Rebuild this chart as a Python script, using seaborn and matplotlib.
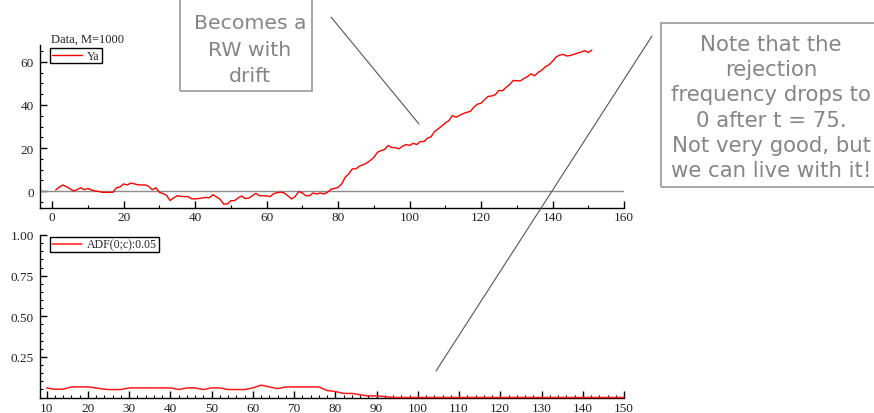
import matplotlib
matplotlib.use("Agg")
import matplotlib.pyplot as plt
import pandas as pd
import seaborn as sns
from matplotlib.patches import Rectangle
from matplotlib.lines import Line2D
from matplotlib.ticker import MultipleLocator

# Simulated series Ya (t = 1..151)
t_data = list(range(1, 152))
ya = [0.5, 1.8, 2.8, 2.0, 1.0, 0.0, 0.7, 1.5, 0.6, 1.2,
      0.5, 0.0, -0.2, -0.6, -0.6, -0.6, -0.6, 1.5, 1.9, 3.3,
      2.8, 3.7, 3.3, 2.9, 2.8, 2.8, 2.2, 0.6, 1.5, -0.6,
      -1.2, -2.0, -4.4, -3.2, -2.2, -2.5, -2.6, -2.6, -3.6, -3.7,
      -3.5, -3.2, -3.0, -3.1, -1.7, -2.8, -3.9, -6.1, -6.0, -4.5,
      -4.5, -3.2, -2.3, -3.5, -3.3, -2.2, -1.1, -2.2, -2.2, -2.3,
      -2.6, -1.2, -0.8, -0.5, -1.0, -2.3, -3.7, -2.5, -0.3, -0.9,
      -2.2, -2.2, -0.9, -1.4, -0.9, -1.4, -0.6, 0.8, 1.2, 1.7,
      3.3, 6.4, 8.0, 10.3, 10.3, 11.6, 12.2, 13.0, 14.2, 15.6,
      18.0, 18.8, 19.3, 21.2, 20.2, 20.2, 19.6, 20.8, 21.6, 21.2,
      22.2, 21.6, 23.0, 23.0, 24.6, 25.2, 27.7, 28.9, 30.2, 31.6,
      32.8, 35.1, 34.3, 35.2, 36.0, 36.6, 37.0, 39.0, 40.4, 40.8,
      42.5, 44.0, 44.2, 44.8, 46.8, 46.6, 48.2, 49.5, 51.4, 51.3,
      51.2, 52.4, 53.2, 54.5, 53.6, 55.2, 56.2, 57.8, 58.7, 60.3,
      62.3, 63.2, 63.5, 62.8, 63.0, 63.6, 64.1, 64.6, 65.3, 64.4,
      65.5]

# ADF(0;c) rejection frequency at 5% (t = 10..150)
t_adf = list(range(10, 151))
adf = [0.059, 0.054, 0.051, 0.051, 0.051, 0.058, 0.065, 0.065, 0.065, 0.065,
       0.065, 0.062, 0.058, 0.055, 0.051, 0.049, 0.049, 0.049, 0.049, 0.054,
       0.059, 0.059, 0.059, 0.059, 0.059, 0.059, 0.059, 0.059, 0.059, 0.059,
       0.059, 0.054, 0.049, 0.054, 0.059, 0.059, 0.059, 0.054, 0.049, 0.054,
       0.059, 0.059, 0.059, 0.054, 0.049, 0.049, 0.049, 0.049, 0.049, 0.054,
       0.059, 0.068, 0.076, 0.071, 0.065, 0.060, 0.055, 0.060, 0.065, 0.065,
       0.065, 0.065, 0.065, 0.065, 0.065, 0.065, 0.065, 0.054, 0.043, 0.040,
       0.037, 0.031, 0.025, 0.025, 0.025, 0.021, 0.017, 0.013, 0.010, 0.010,
       0.010, 0.008, 0.005, 0.003, 0.0, 0.0, 0.0, 0.0, 0.0, 0.0,
       0.0, 0.0, 0.0, 0.0, 0.0, 0.0, 0.0, 0.0, 0.0, 0.0,
       0.0, 0.0, 0.0, 0.0, 0.0, 0.0, 0.0, 0.0, 0.0, 0.0,
       0.0, 0.0, 0.0, 0.0, 0.0, 0.0, 0.0, 0.0, 0.0, 0.0,
       0.0, 0.0, 0.0, 0.0, 0.0, 0.0, 0.0, 0.0, 0.0, 0.0,
       0.0, 0.0, 0.0, 0.0, 0.0, 0.0, 0.0, 0.0, 0.0, 0.0,
       0.0]

adf_yticks = [0.25, 0.50, 0.75, 1.00]

sns.set_theme(style="ticks")
plt.rcParams["font.family"] = ["Liberation Serif", "DejaVu Serif"]

W, H = 874, 414
fig = plt.figure(figsize=(W / 100, H / 100), dpi=100)


def px_box(left, top, right, bottom):
    return [left / W, 1 - bottom / H, (right - left) / W, (bottom - top) / H]


ax1 = fig.add_axes(px_box(40, 46, 624, 209))
ax2 = fig.add_axes(px_box(40, 236, 624, 398.5))

df1 = pd.DataFrame({"t": t_data, "Ya": ya})
df2 = pd.DataFrame({"t": t_adf, "adf": adf})

ax1.axhline(0, color="#8c8c8c", lw=1.0, zorder=1)
sns.lineplot(data=df1, x="t", y="Ya", ax=ax1, color="#ff0000", lw=1.0,
             label="Ya", zorder=3)
sns.lineplot(data=df2, x="t", y="adf", ax=ax2, color="#ff1a1a", lw=1.1,
             label="ADF(0;c):0.05", clip_on=False, zorder=3)

ax1.set_xlim(-3.4, 160)
ax1.set_ylim(-7.9, 67.9)
ax1.xaxis.set_major_locator(MultipleLocator(20))
ax1.xaxis.set_minor_locator(MultipleLocator(10))
ax1.yaxis.set_major_locator(MultipleLocator(20))
ax1.yaxis.set_minor_locator(MultipleLocator(5))

ax2.set_xlim(8.4, 150)
ax2.set_ylim(0, 1.0)
ax2.xaxis.set_major_locator(MultipleLocator(10))
ax2.xaxis.set_minor_locator(MultipleLocator(2))
ax2.set_yticks(adf_yticks)
ax2.set_yticklabels([f"{v:.2f}" for v in adf_yticks])
ax2.yaxis.set_minor_locator(MultipleLocator(0.05))

for ax, lx, ly in ((ax1, 0.017, 0.982), (ax2, 0.017, 0.988)):
    ax.set_xlabel("")
    ax.set_ylabel("")
    ax.set_facecolor("white")
    for side in ("top", "right"):
        ax.spines[side].set_visible(False)
    for side in ("left", "bottom"):
        ax.spines[side].set_color("black")
        ax.spines[side].set_linewidth(1.0)
    ax.tick_params(which="major", direction="in", length=5, width=1.0,
                   color="black", labelsize=9.5, labelcolor="#222222")
    ax.tick_params(which="minor", direction="in", length=2.5, width=0.8,
                   color="black")
    ax.tick_params(axis="y", which="major", pad=4.5)
    leg = ax.legend(loc="upper left", bbox_to_anchor=(lx, ly), fontsize=8.5,
                    frameon=True, fancybox=False, framealpha=1,
                    edgecolor="black", borderpad=0.15, borderaxespad=0,
                    handlelength=2.6, handletextpad=0.4)
    leg.get_frame().set_linewidth(1.0)

ax1.tick_params(axis="x", which="major", pad=2)
ax2.tick_params(axis="x", which="major", pad=3)

fig.text(51 / W, 1 - 40 / H, "Data, M=1000", fontsize=9, va="center",
         ha="left", color="#222222")

# Callout boxes and pointer lines
note_color = "#858585"
fig.add_artist(Rectangle((180 / W, 1 - 92 / H), 132 / W, 100 / H,
                         transform=fig.transFigure, fill=False,
                         ec="#a0a0a0", lw=1.3))
fig.text(250 / W, 1 - 50 / H, "Becomes a\nRW with\ndrift",
         family="DejaVu Sans", fontsize=14.7, color=note_color,
         ha="center", va="center", linespacing=1.49)

fig.add_artist(Rectangle((661 / W, 1 - 188 / H), 220 / W, 164 / H,
                         transform=fig.transFigure, fill=False,
                         ec="#a0a0a0", lw=1.3))
fig.text(771 / W, 1 - 108 / H,
         "Note that the\nrejection\nfrequency drops to\n0 after t = 75.\n"
         "Not very good, but\nwe can live with it!",
         family="DejaVu Sans", fontsize=15.3, color=note_color,
         ha="center", va="center", linespacing=1.33)

fig.add_artist(Line2D([331 / W, 419 / W], [1 - 18 / H, 1 - 125 / H],
                      transform=fig.transFigure, color="#555555", lw=0.8))
fig.add_artist(Line2D([652 / W, 436 / W], [1 - 37 / H, 1 - 372 / H],
                      transform=fig.transFigure, color="#555555", lw=0.8))

fig.savefig("out.png", dpi=100, facecolor="white")
